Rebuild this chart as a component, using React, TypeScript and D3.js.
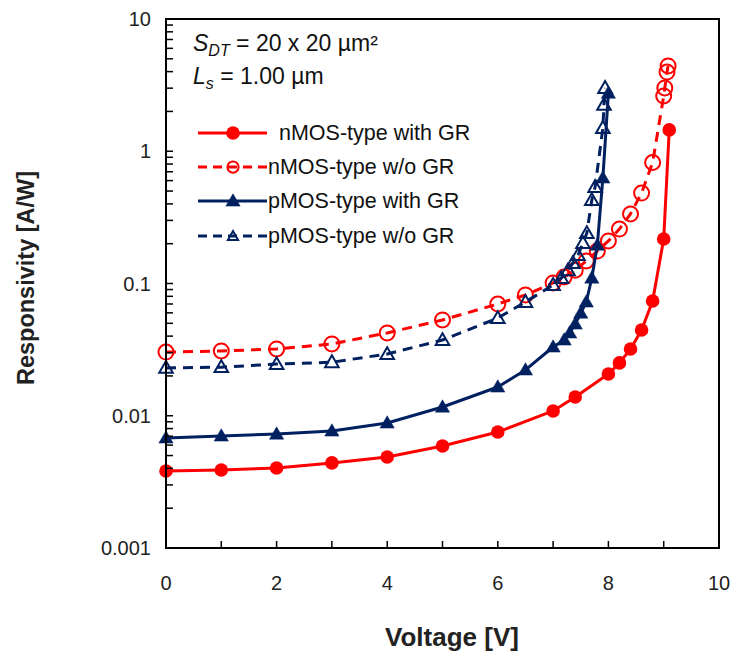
import React from "react";
import * as d3 from "d3";

// Bias voltage (V) and responsivity (A/W) for each device variant
const nmosGrV = [0, 1, 2, 3, 4, 5, 6, 7, 7.4, 8, 8.2, 8.4, 8.6, 8.8, 9, 9.1];
const nmosGrR = [0.00382, 0.00389, 0.00403, 0.0044, 0.00488, 0.00591, 0.00753, 0.01087, 0.01387, 0.0207, 0.0251, 0.032, 0.0445, 0.0738, 0.217, 1.45];

const nmosNoV = [0, 1, 2, 3, 4, 5, 6, 6.5, 7, 7.2, 7.4, 7.6, 7.8, 8, 8.2, 8.4, 8.6, 8.8, 9, 9.02, 9.06, 9.08];
const nmosNoR = [0.0303, 0.0309, 0.032, 0.0349, 0.0423, 0.053, 0.07, 0.0819, 0.101, 0.112, 0.126, 0.148, 0.176, 0.21, 0.258, 0.336, 0.483, 0.822, 2.62, 3.01, 3.97, 4.42];

const pmosGrV = [0, 1, 2, 3, 4, 5, 6, 6.5, 7, 7.2, 7.3, 7.4, 7.5, 7.6, 7.7, 7.8, 7.9, 8.0];
const pmosGrR = [0.00679, 0.00703, 0.00727, 0.00767, 0.00882, 0.01164, 0.0165, 0.0222, 0.0331, 0.0374, 0.0423, 0.0494, 0.0598, 0.0725, 0.11, 0.195, 0.628, 2.75];

const pmosNoV = [0, 1, 2, 3, 4, 5, 6, 6.5, 7, 7.15, 7.27, 7.36, 7.45, 7.54, 7.61, 7.7, 7.76, 7.9, 7.92, 7.94];
const pmosNoR = [0.023, 0.0233, 0.0246, 0.0254, 0.0293, 0.0374, 0.0548, 0.0725, 0.0975, 0.11, 0.126, 0.143, 0.164, 0.202, 0.241, 0.428, 0.537, 1.5, 2.24, 3.01];

const seriesNames = ["nMOS-type with GR", "nMOS-type w/o GR", "pMOS-type with GR", "pMOS-type w/o GR"];

const xTicks = [0, 1, 2, 3, 4, 5, 6, 7, 8, 9, 10];
const xTickLabels = [0, 2, 4, 6, 8, 10];
const yTickLabels = [10, 1, 0.1, 0.01, 0.001];

const RED = "#ff0000";
const NAVY = "#002060";
const FONT = "Arial, 'Liberation Sans', Helvetica, sans-serif";

type Series = {
  name: string;
  v: number[];
  r: number[];
  color: string;
  dashed: boolean;
  marker: "circle" | "triangle";
  filled: boolean;
};

const series: Series[] = [
  { name: seriesNames[0], v: nmosGrV, r: nmosGrR, color: RED, dashed: false, marker: "circle", filled: true },
  { name: seriesNames[1], v: nmosNoV, r: nmosNoR, color: RED, dashed: true, marker: "circle", filled: false },
  { name: seriesNames[2], v: pmosGrV, r: pmosGrR, color: NAVY, dashed: false, marker: "triangle", filled: true },
  { name: seriesNames[3], v: pmosNoV, r: pmosNoR, color: NAVY, dashed: true, marker: "triangle", filled: false },
];

const W = 736;
const H = 655;
const plot = { left: 166, right: 719, top: 19, bottom: 548 };

function Marker({ s, cx, cy, size = 1 }: { s: Series; cx: number; cy: number; size?: number }) {
  if (s.marker === "circle") {
    const r = (s.filled ? 6.8 : 7.5) * size;
    return (
      <circle
        cx={cx}
        cy={cy}
        r={r}
        fill={s.filled ? s.color : "none"}
        stroke={s.color}
        strokeWidth={s.filled ? 0 : 2}
      />
    );
  }
  const sym = d3.symbol(d3.symbolTriangle, (s.filled ? 88 : 80) * size * size)();
  return (
    <path
      d={sym as string}
      transform={`translate(${cx},${cy + 1})`}
      fill={s.filled ? s.color : "none"}
      stroke={s.color}
      strokeWidth={s.filled ? 0.5 : 2}
      strokeLinejoin="miter"
    />
  );
}

export default function App() {
  const x = d3.scaleLinear().domain([0, 10]).range([plot.left, plot.right]);
  const y = d3.scaleLog().domain([0.001, 10]).range([plot.bottom, plot.top]);

  const line = d3
    .line<[number, number]>()
    .x((d) => x(d[0]))
    .y((d) => y(d[1]));

  // minor ticks for each decade on the log axis
  const minorTicks: number[] = [];
  for (let e = -3; e < 1; e++) {
    for (let m = 1; m <= 9; m++) {
      minorTicks.push(m * Math.pow(10, e));
    }
  }

  const legendRows = [133, 167, 201, 236];

  return (
    <svg
      width={W}
      height={H}
      viewBox={`0 0 ${W} ${H}`}
      style={{ position: "absolute", left: 0, top: 0, background: "#fff" }}
      fontFamily={FONT}
    >
      <rect x={0} y={0} width={W} height={H} fill="#fff" />

      {/* Series */}
      {series.map((s) => {
        const pts = s.v.map((v, i) => [v, s.r[i]] as [number, number]);
        return (
          <g key={s.name}>
            <path
              d={line(pts) as string}
              fill="none"
              stroke={s.color}
              strokeWidth={3}
              strokeDasharray={s.dashed ? "10 7" : undefined}
              strokeLinejoin="round"
            />
            {pts.map((p, i) => (
              <Marker key={i} s={s} cx={x(p[0])} cy={y(p[1])} />
            ))}
          </g>
        );
      })}

      {/* Frame */}
      <rect
        x={plot.left}
        y={plot.top}
        width={plot.right - plot.left}
        height={plot.bottom - plot.top}
        fill="none"
        stroke="#000"
        strokeWidth={2}
      />

      {/* Y ticks (inside) */}
      {minorTicks.map((t, i) => (
        <line
          key={i}
          x1={plot.left}
          x2={plot.left + 7}
          y1={y(t)}
          y2={y(t)}
          stroke="#000"
          strokeWidth={1.5}
        />
      ))}

      {/* X ticks (inside) */}
      {xTicks.map((t) => (
        <line
          key={t}
          x1={x(t)}
          x2={x(t)}
          y1={plot.bottom}
          y2={plot.bottom - 7}
          stroke="#000"
          strokeWidth={1.5}
        />
      ))}

      {/* Y tick labels */}
      {yTickLabels.map((t) => (
        <text
          key={t}
          x={plot.left - 15}
          y={y(t)}
          textAnchor="end"
          dominantBaseline="central"
          fontSize={20}
          fill="#222"
        >
          {String(t)}
        </text>
      ))}

      {/* X tick labels */}
      {xTickLabels.map((t) => (
        <text
          key={t}
          x={x(t)}
          y={plot.bottom + 35}
          textAnchor="middle"
          dominantBaseline="central"
          fontSize={20}
          fill="#222"
        >
          {String(t)}
        </text>
      ))}

      {/* Axis titles */}
      <text
        x={452}
        y={637}
        textAnchor="middle"
        dominantBaseline="central"
        fontSize={26}
        fontWeight="bold"
        fill="#222"
      >
        Voltage [V]
      </text>
      <text
        transform={`translate(26,278) rotate(-90)`}
        textAnchor="middle"
        dominantBaseline="central"
        fontSize={23.5}
        fontWeight="bold"
        fill="#222"
      >
        Responsivity [A/W]
      </text>

      {/* Device annotation */}
      <text x={193} y={51} fontSize={23} fill="#111">
        <tspan fontStyle="italic">S</tspan>
        <tspan fontStyle="italic" fontSize={16} dy={5}>DT</tspan>
        <tspan dy={-5}> = 20 x 20 µm²</tspan>
      </text>
      <text x={193} y={84} fontSize={23} fill="#111">
        <tspan fontStyle="italic">L</tspan>
        <tspan fontStyle="italic" fontSize={16} dy={5}>s</tspan>
        <tspan dy={-5}> = 1.00 µm</tspan>
      </text>

      {/* Legend */}
      {series.map((s, i) => {
        const ly = legendRows[i];
        return (
          <g key={s.name}>
            <line
              x1={198}
              x2={267}
              y1={ly}
              y2={ly}
              stroke={s.color}
              strokeWidth={3}
              strokeDasharray={s.dashed ? "9 6" : undefined}
            />
            <Marker s={s} cx={233} cy={ly} size={s.filled ? 1 : 0.75} />
            <text
              x={i === 0 ? 279 : 268}
              y={ly}
              dominantBaseline="central"
              fontSize={21.5}
              fill="#111"
            >
              {s.name}
            </text>
          </g>
        );
      })}
    </svg>
  );
}
